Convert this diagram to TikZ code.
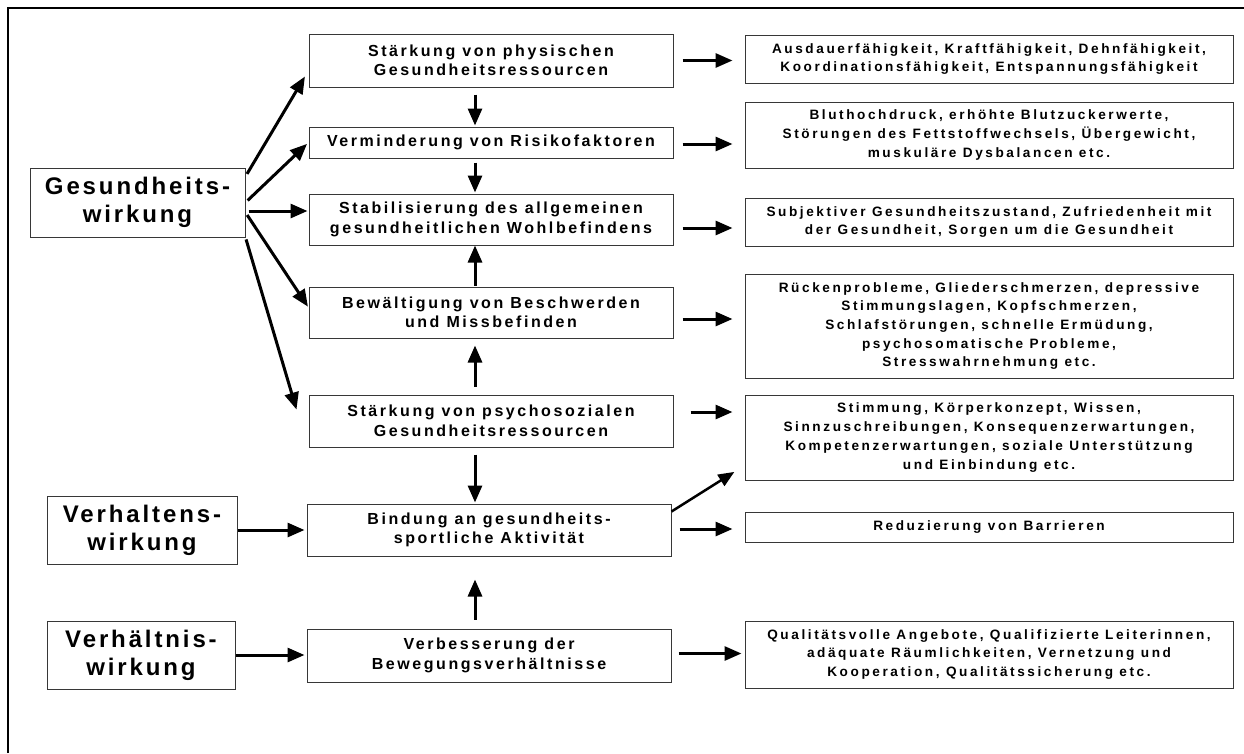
\documentclass[tikz,border=0pt]{standalone}
\usepackage{fontspec}
\setmainfont{Liberation Sans}[LetterSpace=12]
\newfontfamily\wirkfont{Liberation Sans}[LetterSpace=12]
\newfontfamily\midfont{Liberation Sans}[LetterSpace=16]
\newfontfamily\detailfont{Liberation Sans}[LetterSpace=19]
\usetikzlibrary{arrows.meta, calc}
\definecolor{cframe}{RGB}{0,0,0}
\definecolor{cbox}{RGB}{55,55,55}
\tikzset{
  wirk/.style   = {rectangle, draw=cbox, line width=1pt, align=center,
                   inner sep=0pt, minimum height=68pt,
                   font=\wirkfont\fontsize{24}{28}\selectfont\bfseries},
  mid/.style    = {rectangle, draw=cbox, line width=1pt, align=center,
                   inner sep=0pt, minimum width=364pt,
                   font=\midfont\fontsize{16}{19.5}\selectfont\bfseries},
  detail/.style = {rectangle, draw=cbox, line width=1pt, align=center,
                   inner sep=0pt, minimum width=488pt,
                   font=\detailfont\fontsize{13.6}{18.7}\selectfont\bfseries},
  flow/.style   = {-{Triangle[length=17pt, width=14pt]}, line width=3pt},
  thin/.style   = {-{Triangle[length=16pt, width=13pt]}, line width=2.5pt}
}

\begin{document}
\begin{tikzpicture}[x=1pt, y=-1pt]
\useasboundingbox (0,0) rectangle (1244,753);

% ── Frame (only top and left edge are visible) ─────────────────────────────
\draw[cframe, line width=2pt] (8,753) -- (8,8) -- (1244,8);

% ── Column x-coordinates ───────────────────────────────────────────────────
\def\xM{491}   % middle column
\def\xB{489}   % middle column, lower two boxes
\def\xR{989}   % right column

% ── Left: kinds of effect ──────────────────────────────────────────────────
\node[wirk, minimum width=215pt, minimum height=69pt] (gw)    at (137.5, 202.5) {Gesundheits-\\wirkung};
\node[wirk, minimum width=190pt] (verh)  at (142, 530)   {Verhaltens-\\wirkung};
\node[wirk, minimum width=188pt] (verhn) at (141, 655)   {Verhältnis-\\wirkung};

% ── Middle column ──────────────────────────────────────────────────────────
\node[mid, minimum height=53pt] (phys)    at (\xM,  60.5) {Stärkung von physischen\\Gesundheitsressourcen};
\node[mid, minimum height=31pt] (vermind) at (\xM, 142.5) {Verminderung von Risikofaktoren};
\node[mid, minimum height=51pt] (stab)    at (\xM, 219.5) {Stabilisierung des allgemeinen\\gesundheitlichen Wohlbefindens};
\node[mid, minimum height=51pt] (bewalt)  at (\xM, 312.5) {Bewältigung von Beschwerden\\und Missbefinden};
\node[mid, minimum height=52pt] (psych)   at (\xM, 421)   {Stärkung von psychosozialen\\Gesundheitsressourcen};
\node[mid, minimum height=52pt] (bind)    at (\xB, 530)   {Bindung an gesundheits-\\sportliche Aktivität};
\node[mid, minimum height=53pt] (verb)    at (\xB, 655.5) {Verbesserung der\\Bewegungsverhältnisse};

% ── Right column ───────────────────────────────────────────────────────────
\node[detail, minimum height=48pt]  (ausd)  at (\xR,  59)   {Ausdauerfähigkeit, Kraftfähigkeit, Dehnfähigkeit,\\Koordinationsfähigkeit, Entspannungsfähigkeit};
\node[detail, minimum height=66pt]  (blut)  at (\xR, 135)   {Bluthochdruck, erhöhte Blutzuckerwerte,\\Störungen des Fettstoffwechsels, Übergewicht,\\muskuläre Dysbalancen etc.};
\node[detail, minimum height=48pt]  (subj)  at (\xR, 222)   {Subjektiver Gesundheitszustand, Zufriedenheit mit\\der Gesundheit, Sorgen um die Gesundheit};
\node[detail, minimum height=104pt] (rueck) at (\xR, 326)   {Rückenprobleme, Gliederschmerzen, depressive\\Stimmungslagen, Kopfschmerzen,\\Schlafstörungen, schnelle Ermüdung,\\psychosomatische Probleme,\\Stresswahrnehmung etc.};
\node[detail, minimum height=85pt]  (stimm) at (\xR, 437.5) {Stimmung, Körperkonzept, Wissen,\\Sinnzuschreibungen, Konsequenzerwartungen,\\Kompetenzerwartungen, soziale Unterstützung\\und Einbindung etc.};
\node[detail, minimum height=30pt]  (redu)  at (\xR, 527)   {Reduzierung von Barrieren};
\node[detail, minimum height=67pt]  (qual)  at (\xR, 654.5) {Qualitätsvolle Angebote, Qualifizierte Leiterinnen,\\adäquate Räumlichkeiten, Vernetzung und\\Kooperation, Qualitätssicherung etc.};

% ── Fan out of Gesundheitswirkung ──────────────────────────────────────────
\draw[flow, shorten <=3pt, shorten >=7pt] ([yshift=-9pt]gw.north east) -- ([yshift=-10pt]phys.west);
\draw[flow, shorten <=3pt, shorten >=2pt] (gw.east) -- (vermind.west);
\draw[flow, shorten <=3pt, shorten >=1pt] ([yshift=-8.5pt]gw.east) -- ([yshift=8.5pt]stab.west);
\draw[flow, shorten <=3pt, shorten >=1pt] ([yshift=-10pt]gw.east) -- ([yshift=5pt]bewalt.west);
\draw[flow, shorten <=2pt] (gw.south east) -- ([xshift=-12pt, yshift=-15pt]psych.north west);

% ── Vertical links in the middle column ────────────────────────────────────
\draw[flow, shorten <=7pt, shorten >=1pt] ([xshift=-16pt]phys.south)    -- ([xshift=-16pt]vermind.north);
\draw[flow, shorten <=4pt, shorten >=1pt] ([xshift=-16pt]vermind.south) -- ([xshift=-16pt]stab.north);
\draw[flow, shorten <=1pt]                ([xshift=-16pt]bewalt.north)  -- ([xshift=-16pt]stab.south);
\draw[flow, shorten <=8pt, shorten >=7pt] ([xshift=-16pt]psych.north)   -- ([xshift=-16pt]bewalt.south);
\draw[flow, shorten <=7pt, shorten >=1pt] ([xshift=-16pt]psych.south)   -- ([xshift=-14pt]bind.north);
\draw[flow, shorten <=9pt, shorten >=23pt] ([xshift=-14pt]verb.north)   -- ([xshift=-14pt]bind.south);

% ── Left boxes into the middle column ──────────────────────────────────────
\draw[flow, shorten >=2pt] (verh.east)  -- (verh.east -| bind.west);
\draw[flow, shorten >=2pt] (verhn.east) -- (verhn.east -| verb.west);

% ── Middle column to details ───────────────────────────────────────────────
\draw[flow, shorten <=9pt,  shorten >=12pt] (phys.east)    -- (phys.east -| ausd.west);
\draw[flow, shorten <=9pt,  shorten >=12pt] ([yshift=-1.5pt]vermind.east) -- ([yshift=-1.5pt]vermind.east -| blut.west);
\draw[flow, shorten <=9pt,  shorten >=12pt] ([yshift=-8.5pt]stab.east)  -- ([yshift=-8.5pt]stab.east -| subj.west);
\draw[flow, shorten <=9pt,  shorten >=12pt] ([yshift=-6.5pt]bewalt.east) -- ([yshift=-6.5pt]bewalt.east -| rueck.west);
\draw[flow, shorten <=17pt, shorten >=12pt] ([yshift=9pt]psych.east)   -- ([yshift=9pt]psych.east -| stimm.west);
\draw[thin, shorten >=12pt] ([yshift=-8pt]bind.north east) -- ([yshift=15pt]stimm.south west);
\draw[flow, shorten <=8pt,  shorten >=12pt] ([yshift=1pt]bind.east)    -- ([yshift=1pt]bind.east -| redu.west);
\draw[flow, shorten <=7pt,  shorten >=3pt]  ([yshift=2pt]verb.east)    -- ([yshift=2pt]verb.east -| qual.west);

\end{tikzpicture}
\end{document}
